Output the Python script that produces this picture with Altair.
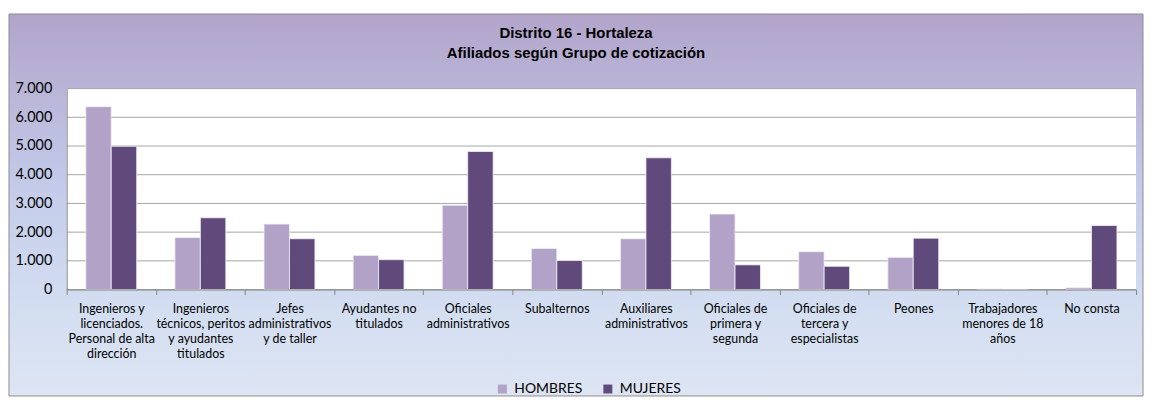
import altair as alt
import pandas as pd

# ---- data ----
categorias = [
    "Ingenieros y|licenciados.|Personal de alta|dirección",
    "Ingenieros|técnicos, peritos|y ayudantes|titulados",
    "Jefes|administrativos|y de taller",
    "Ayudantes no|titulados",
    "Oficiales|administrativos",
    "Subalternos",
    "Auxiliares|administrativos",
    "Oficiales de|primera y|segunda",
    "Oficiales de|tercera y|especialistas",
    "Peones",
    "Trabajadores|menores de 18|años",
    "No consta",
]
hombres = [6370, 1810, 2280, 1190, 2940, 1430, 1770, 2630, 1320, 1120, 20, 60]
mujeres = [4990, 2500, 1770, 1040, 4810, 1010, 4590, 860, 810, 1790, 5, 2230]
series = ["HOMBRES", "MUJERES"]
colores = ["#B3A2C7", "#604A7B"]
ticks_y = [0, 1000, 2000, 3000, 4000, 5000, 6000, 7000]
titulo = ["Distrito 16 - Hortaleza", "Afiliados según Grupo de cotización"]

rows = []
for c, h, m in zip(categorias, hombres, mujeres):
    rows.append({"categoria": c, "sexo": series[0], "valor": h})
    rows.append({"categoria": c, "sexo": series[1], "valor": m})
df = pd.DataFrame(rows)
grid_df = pd.DataFrame({"v": ticks_y})
one = pd.DataFrame({"k": [0]})

W, H = 1075, 202
PAD = {"left": 59, "top": 80, "right": 8, "bottom": 107}

yscale = alt.Scale(domain=[0, 7000], nice=False, zero=True)
yaxis = alt.Axis(
    title=None, values=ticks_y,
    labelExpr="replace(format(datum.value, ','), ',', '.')",
    grid=False, ticks=False, domain=True, domainColor="#868686",
    labelFont="Lato", labelFontSize=14.5, labelPadding=15,
    labelColor="black", zindex=1,
)

background = alt.Chart(one).mark_rect(
    fill=alt.Gradient(
        gradient="linear", x1=0, x2=0, y1=0, y2=1,
        stops=[
            alt.GradientStop(color="#B2A4CA", offset=0),
            alt.GradientStop(color="#C3CBE9", offset=0.45),
            alt.GradientStop(color="#D2DDF1", offset=0.75),
            alt.GradientStop(color="#DDE5F3", offset=1),
        ],
    ),
    stroke="#8C8C8C", strokeWidth=1,
).encode(
    x=alt.value(-58), x2=alt.value(W + 7),
    y=alt.value(-75), y2=alt.value(H + 107),
)

plotbg = alt.Chart(one).mark_rect(fill="white").encode(
    x=alt.value(0), x2=alt.value(W), y=alt.value(0), y2=alt.value(H)
)

grid = alt.Chart(grid_df).mark_rule(color="#A6A6A6", strokeWidth=1).encode(
    y=alt.Y("v:Q", scale=yscale, axis=yaxis),
    x=alt.value(0), x2=alt.value(W),
)

bars = alt.Chart(df).mark_bar(stroke="#F4F0F8", strokeWidth=0.8).encode(
    x=alt.X(
        "categoria:N", sort=categorias,
        scale=alt.Scale(paddingInner=0, paddingOuter=0),
        axis=alt.Axis(
            title=None, labelAngle=0,
            labelExpr="split(datum.label, '|')",
            tickBand="extent", ticks=True, tickSize=5, tickColor="#868686",
            domainColor="#868686", grid=False,
            labelFont="Lato", labelFontSize=12.5, labelLineHeight=15,
            labelBaseline="top", labelPadding=8, labelColor="black",
            labelLimit=0, zindex=1,
        ),
    ),
    xOffset=alt.XOffset(
        "sexo:N", sort=series,
        scale=alt.Scale(paddingInner=0, paddingOuter=0.75),
    ),
    y=alt.Y("valor:Q", scale=yscale, axis=yaxis),
    color=alt.Color(
        "sexo:N",
        scale=alt.Scale(domain=series, range=colores),
        legend=alt.Legend(
            title=None, orient="none", legendX=431, legendY=295,
            direction="horizontal", symbolType="square", symbolSize=81,
            symbolStrokeWidth=0, labelFont="Lato", labelFontSize=14,
            labelColor="black", columnPadding=18, labelOffset=5, zindex=1,
        ),
    ),
)

chart = alt.layer(background, plotbg, grid, bars).properties(
    width=W, height=H,
    padding=PAD,
    autosize=alt.AutoSizeParams(type="none"),
    background="white",
    title=alt.TitleParams(
        titulo, font="Liberation Sans", fontSize=15, fontWeight="bold",
        color="black", anchor="middle", frame="bounds",
        lineHeight=20, offset=-48,
    ),
).configure_view(stroke=None)

chart.save("out.html", embed_options={"renderer": "svg", "actions": False})
